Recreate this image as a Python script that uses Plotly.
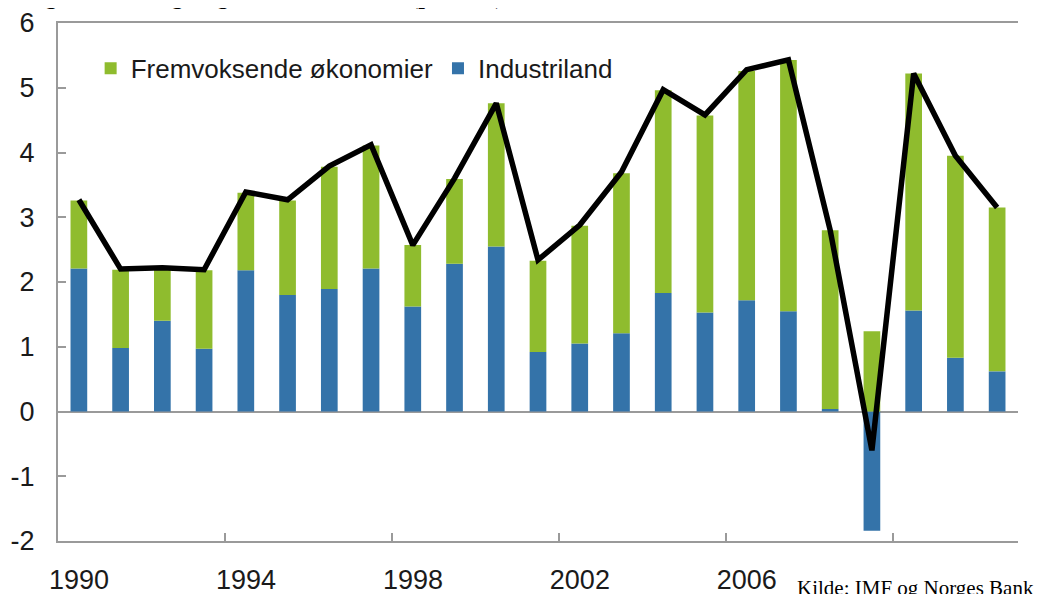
import plotly.graph_objects as go

years = list(range(1990, 2013))
industriland = [2.21, 0.98, 1.40, 0.97, 2.18, 1.80, 1.89, 2.21, 1.62, 2.28, 2.55, 0.92,
                1.05, 1.21, 1.83, 1.53, 1.72, 1.55, 0.04, -1.84, 1.56, 0.83, 0.62]
fremvoksende = [1.05, 1.21, 0.80, 1.21, 1.20, 1.46, 1.89, 1.90, 0.95, 1.31, 2.21, 1.41,
                1.82, 2.47, 3.13, 3.04, 3.54, 3.88, 2.76, 1.24, 3.66, 3.12, 2.53]
total = [3.27, 2.20, 2.22, 2.19, 3.39, 3.27, 3.79, 4.12, 2.57, 3.60, 4.76, 2.34,
         2.88, 3.70, 4.97, 4.58, 5.28, 5.43, 2.80, -0.60, 5.22, 3.95, 3.15]

x_tick_vals = [1989.5, 1993.5, 1997.5, 2001.5, 2005.5, 2009.5]
x_tick_text = ["1990", "1994", "1998", "2002", "2006", ""]
y_ticks = [-2, -1, 0, 1, 2, 3, 4, 5, 6]
y_tick_text = ["-2", "-1", "0", "1", "2", "3", "4", "5", "6"]

title_text = "Figur 1: Bidrag til global vekst i BNP (prosent)"
source_text = "Kilde: IMF og Norges Bank"

BLUE = "#3473A9"
GREEN = "#8FBC2E"
GRAY = "#9A9A9A"
FONT = "Liberation Sans"

fig = go.Figure()
fig.add_trace(go.Bar(x=years, y=industriland, name="Industriland",
                     marker=dict(color=BLUE, line=dict(width=0)), width=0.4, legendrank=2))
fig.add_trace(go.Bar(x=years, y=fremvoksende, name="Fremvoksende økonomier",
                     marker=dict(color=GREEN, line=dict(width=0)), width=0.4, legendrank=1))
fig.add_trace(go.Scatter(x=years, y=total, mode="lines", showlegend=False,
                         line=dict(color="black", width=5.5)))

fig.update_layout(
    width=1054, height=586,
    margin=dict(l=50, r=44, t=15, b=53, autoexpand=False),
    barmode="relative",
    plot_bgcolor="white", paper_bgcolor="white",
    font=dict(family=FONT, size=27, color="#1a1a1a"),
    showlegend=True,
    legend=dict(orientation="h", x=0.034, y=0.958, xanchor="left", yanchor="top",
                font=dict(size=26, family=FONT, color="#1a1a1a"),
                bgcolor="rgba(0,0,0,0)", traceorder="normal", itemwidth=30),
    xaxis=dict(range=[1989.5, 2012.5], tickmode="array", tickvals=x_tick_vals,
               ticktext=x_tick_text, ticks="inside", ticklen=8, tickwidth=1.5,
               tickcolor=GRAY, showline=True, linecolor=GRAY, linewidth=2, mirror=True,
               showgrid=False, zeroline=False, ticklabelshift=21, ticklabelstandoff=14,
               tickfont=dict(size=27), automargin=False),
    yaxis=dict(range=[-2, 6], tickmode="array", tickvals=y_ticks, ticktext=y_tick_text,
               ticks="inside", ticklen=8, tickwidth=1.5, tickcolor=GRAY, showline=True,
               linecolor=GRAY, linewidth=2, showgrid=False, zeroline=True,
               zerolinecolor=GRAY, zerolinewidth=1.5, ticklabelstandoff=16,
               tickfont=dict(size=27), automargin=False),
    yaxis2=dict(range=[-2, 6], overlaying="y", side="right", tickmode="array",
                tickvals=y_ticks, ticktext=y_tick_text, ticks="inside", ticklen=8,
                tickwidth=1.5, tickcolor=GRAY, showline=True, linecolor=GRAY, linewidth=2,
                showgrid=False, zeroline=False, ticklabelstandoff=16,
                tickfont=dict(size=27), automargin=False),
)

fig.add_annotation(text=f"<b>{title_text}</b>", xref="paper", yref="paper",
                   x=(22 - 58) / 960, y=1, xanchor="left", yanchor="bottom", yshift=12,
                   showarrow=False, font=dict(family="Liberation Serif", size=24, color="black"))
fig.add_annotation(text=source_text, xref="paper", yref="paper",
                   x=(795 - 58) / 960, y=0, xanchor="left", yanchor="top", yshift=-33,
                   showarrow=False, bgcolor="white",
                   font=dict(family="Liberation Serif", size=21, color="black"))

fig.write_html("out.html")
